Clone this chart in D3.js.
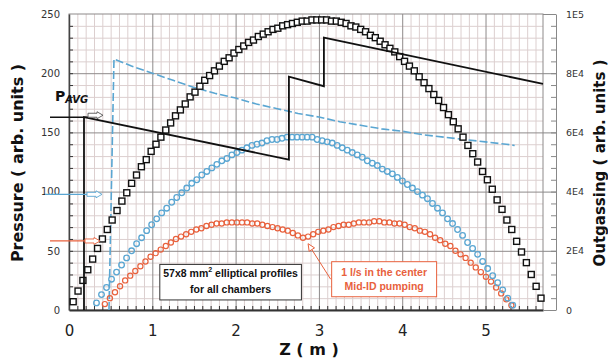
<!DOCTYPE html>
<html>
<head>
<meta charset="utf-8">
<script src="https://cdn.jsdelivr.net/npm/d3@7/dist/d3.min.js"></script>
<style>
  body { margin: 0; background: #fff; }
  svg { display: block; }
</style>
</head>
<body>
<svg id="chart" width="608" height="359"></svg>
<script>
// ---- data ----
const zTicks = [0, 1, 2, 3, 4, 5];
const pressureTicks = [0, 50, 100, 150, 200, 250];
const outgassingTicks = [0, 20000, 40000, 60000, 80000, 100000];
const outgassingLabels = ['0', '2E4', '4E4', '6E4', '8E4', '1E5'];

// black squares: sampled every 0.0585 m starting at z = 0.05
const squareZ0 = 0.05, squareDz = 0.0585;
const squareP = [
  7, 16, 25, 34, 43, 52, 60, 68, 76, 84,
  92, 99, 107, 114, 121, 127, 134, 140, 146, 152,
  158, 164, 169, 174, 180, 184, 189, 194, 198, 202,
  206, 210, 213, 217, 220, 223, 226, 228, 231, 233,
  235, 237, 238, 240, 241, 242, 243, 244, 244, 245,
  245, 245, 245, 244, 244, 243, 242, 240, 239, 237,
  235, 232, 230, 227, 224, 221, 218, 214, 210, 206,
  202, 197, 192, 187, 182, 177, 171, 165, 159, 153,
  146, 139, 132, 125, 117, 110, 102, 93, 85, 76,
  68, 58, 49, 40, 30, 20, 10
];

// blue circles: every 0.0602 m from z = 0.33
const blueZ0 = 0.33, blueDz = 0.0602;
const blueP = [
  6, 13, 19, 26, 32, 38, 44, 50, 56, 61,
  67, 72, 77, 82, 86, 91, 95, 99, 103, 107,
  110, 114, 117, 120, 123, 126, 128, 131, 133, 135,
  137, 139, 140, 141, 143, 144, 144, 145, 146, 146,
  146, 146, 146, 146, 144, 143, 142, 141, 139, 137,
  135, 133, 131, 129, 126, 124, 122, 119, 117, 115,
  112, 109, 106, 103, 100, 97, 94, 90, 86, 82,
  77, 73, 68, 63, 57, 52, 47, 41, 35, 29,
  23, 17, 10, 4
];

// red circles (1 l/s mid-ID pumping): every 0.061 m from z = 0.43
const redZ0 = 0.43, redDz = 0.061;
const redP = [
  5, 10, 15, 20, 25, 29, 33, 37, 41, 45,
  48, 51, 54, 57, 60, 62, 64, 66, 68, 69,
  71, 72, 73, 73, 74, 74, 74, 74, 74, 73,
  73, 72, 71, 70, 69, 68, 67, 65, 63, 61,
  62, 64, 66, 67, 68, 70, 71, 72, 72, 73,
  74, 74, 74, 75, 75, 74, 74, 73, 73, 72,
  70, 69, 67, 66, 64, 61, 59, 56, 54, 50,
  47, 44, 40, 36, 32, 28, 24, 19, 14, 9,
  4
];

// blue dashed line
const dashZ = [0.48, 0.54, 0.75, 1.0, 1.25, 1.5, 1.75, 2.0, 2.25, 2.5, 2.75, 3.0,
  3.25, 3.5, 3.75, 4.0, 4.25, 4.5, 4.75, 5.0, 5.25, 5.35];
const dashP = [0, 212, 206, 200, 194, 188, 183, 179, 174, 170, 166, 163,
  159, 156, 153, 151, 148, 146, 144, 142, 140, 139];

// black solid saw-tooth line
const stepZ = [0.18, 0.18, 2.64, 2.64, 3.06, 3.06, 5.69];
const stepP = [0, 163, 127, 197, 189, 230, 191];

const blue = '#5aa6d2';
const red = '#e8613d';

// average pressure markers on the left
const pAvg = [
  {p: 162.8, color: '#111', lineFrom: 50, tip: 103, lift: -2},
  {p: 97.7, color: blue, lineFrom: 45, tip: 102, lift: 0},
  {p: 58.3, color: red, lineFrom: 50, tip: 100, lift: 0}
];

// ---- chart ----
const plot = {left: 69, right: 543, top: 14, bottom: 310};
const svg = d3.select('#chart');

const x = d3.scaleLinear().domain([0, 5.69]).range([plot.left, plot.right]);
const y = d3.scaleLinear().domain([0, 250]).range([plot.bottom, plot.top]);
const yR = d3.scaleLinear().domain([0, 100000]).range([plot.bottom, plot.top]);

const plotH = plot.bottom - plot.top;
const plotW = plot.right - plot.left;

const minorZ = d3.range(1, 57).filter(i => i % 10 !== 0).map(i => i / 10);
const majorZ = [1, 2, 3, 4, 5];
const minorP = d3.range(10, 250, 10).filter(v => v % 50 !== 0);
const majorP = [50, 100, 150, 200];

function grid(axis, transform, color) {
  const g = svg.append('g').attr('transform', transform).call(axis);
  g.select('.domain').remove();
  g.selectAll('line').attr('stroke', color).attr('stroke-width', 1);
  g.selectAll('text').remove();
  return g;
}

grid(d3.axisBottom(x).tickValues(minorZ).tickSize(-plotH).tickFormat(''),
  `translate(0,${plot.bottom})`, '#dccfcf');
grid(d3.axisLeft(y).tickValues(minorP).tickSize(-plotW).tickFormat(''),
  `translate(${plot.left},0)`, '#dccfcf');
grid(d3.axisBottom(x).tickValues(majorZ).tickSize(-plotH).tickFormat(''),
  `translate(0,${plot.bottom})`, '#8e8a8a');
grid(d3.axisLeft(y).tickValues(majorP).tickSize(-plotW).tickFormat(''),
  `translate(${plot.left},0)`, '#8e8a8a');

// frame
svg.append('rect')
  .attr('x', plot.left).attr('y', plot.top)
  .attr('width', plotW).attr('height', plotH)
  .attr('fill', 'none').attr('stroke', '#8e8a8a');

// small inward ticks
grid(d3.axisBottom(x).tickValues(d3.range(1, 57).map(i => i / 10)).tickSize(-4).tickFormat(''),
  `translate(0,${plot.bottom})`, '#333');
grid(d3.axisLeft(y).tickValues(d3.range(10, 250, 10)).tickSize(-4).tickFormat(''),
  `translate(${plot.left},0)`, '#333');

// bottom axis
const xAxis = svg.append('g')
  .attr('transform', `translate(0,${plot.bottom})`)
  .call(d3.axisBottom(x).tickValues(zTicks).tickSize(0).tickPadding(15).tickFormat(d3.format('d')));
xAxis.select('.domain').attr('stroke', '#333').attr('stroke-width', 2.2);
xAxis.selectAll('text')
  .style('font-family', '"DejaVu Sans", sans-serif')
  .style('font-size', '15px')
  .attr('fill', '#222');

// left axis
const yAxis = svg.append('g')
  .attr('transform', `translate(${plot.left},0)`)
  .call(d3.axisLeft(y).tickValues(pressureTicks).tickSize(0).tickPadding(9));
yAxis.select('.domain').attr('stroke', '#444').attr('stroke-width', 1.5);
yAxis.selectAll('text')
  .style('font-family', '"DejaVu Sans", sans-serif')
  .style('font-size', '10px')
  .attr('fill', '#333');

// right axis: separate spine with ticks pointing back at the plot
const rightX = 556;
const rMinor = svg.append('g')
  .attr('transform', `translate(${rightX},0)`)
  .call(d3.axisLeft(yR).tickValues(d3.range(0, 100001, 4000)).tickSize(5).tickSizeOuter(0).tickFormat(''));
rMinor.select('.domain').attr('stroke', '#888');
rMinor.selectAll('line').attr('stroke', '#888');
const rMajor = svg.append('g')
  .attr('transform', `translate(${rightX},0)`)
  .call(d3.axisLeft(yR).tickValues(outgassingTicks).tickSize(rightX - plot.right).tickSizeOuter(0).tickFormat(''));
rMajor.select('.domain').remove();
rMajor.selectAll('line').attr('stroke', '#888');
const rLabels = svg.append('g')
  .attr('transform', `translate(${rightX},0)`)
  .call(d3.axisRight(yR).tickValues(outgassingTicks).tickSize(0).tickPadding(10)
    .tickFormat((d, i) => outgassingLabels[i]));
rLabels.select('.domain').remove();
rLabels.selectAll('text')
  .style('font-family', '"DejaVu Sans", sans-serif')
  .style('font-size', '9.5px')
  .attr('fill', '#333');

// axis titles
const titleFont = '"DejaVu Sans", sans-serif';
svg.append('text')
  .attr('transform', 'translate(23,163) rotate(-90)')
  .attr('text-anchor', 'middle')
  .style('font-family', titleFont).style('font-weight', 'bold').style('font-size', '16px')
  .attr('fill', '#111')
  .text('Pressure ( arb. units )');
svg.append('text')
  .attr('transform', 'translate(605,163) rotate(-90)')
  .attr('text-anchor', 'middle')
  .style('font-family', titleFont).style('font-weight', 'bold').style('font-size', '15px')
  .attr('fill', '#111')
  .text('Outgassing ( arb. units )');
svg.append('text')
  .attr('x', 309).attr('y', 355)
  .attr('text-anchor', 'middle')
  .style('font-family', titleFont).style('font-weight', 'bold').style('font-size', '16px')
  .attr('fill', '#111')
  .text('Z ( m )');

// ---- series ----
const plotArea = svg.append('g');

const dashLine = d3.line().x((d, i) => x(dashZ[i])).y(d => y(d));
plotArea.append('path')
  .attr('d', dashLine(dashP))
  .attr('fill', 'none')
  .attr('stroke', blue)
  .attr('stroke-width', 1.6)
  .attr('stroke-dasharray', '8,3');

plotArea.selectAll('.red-pt')
  .data(redP)
  .join('circle')
  .attr('class', 'red-pt')
  .attr('cx', (d, i) => x(redZ0 + i * redDz))
  .attr('cy', d => y(d))
  .attr('r', 2.6)
  .attr('fill', 'none')
  .attr('stroke', red)
  .attr('stroke-width', 1.2);

plotArea.selectAll('.blue-pt')
  .data(blueP)
  .join('circle')
  .attr('class', 'blue-pt')
  .attr('cx', (d, i) => x(blueZ0 + i * blueDz))
  .attr('cy', d => y(d))
  .attr('r', 2.8)
  .attr('fill', 'none')
  .attr('stroke', blue)
  .attr('stroke-width', 1.3);

const sq = 6;
plotArea.selectAll('.sq-pt')
  .data(squareP)
  .join('rect')
  .attr('class', 'sq-pt')
  .attr('x', (d, i) => x(squareZ0 + i * squareDz) - sq / 2)
  .attr('y', d => y(d) - sq / 2)
  .attr('width', sq)
  .attr('height', sq)
  .attr('fill', '#fff')
  .attr('stroke', '#111')
  .attr('stroke-width', 1.4);

const stepLine = d3.line().x((d, i) => x(stepZ[i])).y(d => y(d));
plotArea.append('path')
  .attr('d', stepLine(stepP))
  .attr('fill', 'none')
  .attr('stroke', '#111')
  .attr('stroke-width', 1.8);

// ---- annotations ----
const ann = svg.append('g');

pAvg.forEach(a => {
  const cy = y(a.p);
  ann.append('line')
    .attr('x1', a.lineFrom).attr('x2', a.tip - 15)
    .attr('y1', cy).attr('y2', cy)
    .attr('stroke', a.color).attr('stroke-width', 1.3);
  const ay = cy + a.lift;
  const pts = [[a.tip - 15, ay - 2], [a.tip - 6, ay - 2], [a.tip - 6, ay - 3.5], [a.tip, ay],
    [a.tip - 6, ay + 3.5], [a.tip - 6, ay + 2], [a.tip - 15, ay + 2]];
  ann.append('polygon')
    .attr('points', pts.map(p => p.join(',')).join(' '))
    .attr('fill', '#fff')
    .attr('stroke', a.color === '#111' ? '#555' : a.color)
    .attr('stroke-width', 0.9);
});

const pLabel = ann.append('text')
  .attr('x', 55).attr('y', 101)
  .style('font-family', titleFont).style('font-weight', 'bold')
  .attr('fill', '#111');
pLabel.append('tspan').style('font-size', '14px').text('P');
pLabel.append('tspan').style('font-size', '10px').style('font-style', 'italic')
  .attr('dy', 1.5).text('AVG');

// black info box
const boxFont = '"Liberation Sans", Arial, sans-serif';
const b1 = {z0: 1.09, z1: 2.79, p0: 38.5, p1: 8.5};
ann.append('rect')
  .attr('x', x(b1.z0)).attr('y', y(b1.p0))
  .attr('width', x(b1.z1) - x(b1.z0)).attr('height', y(b1.p1) - y(b1.p0))
  .attr('fill', '#fff').attr('stroke', '#333').attr('stroke-width', 1);
const b1mid = (x(b1.z0) + x(b1.z1)) / 2;
const t1 = ann.append('text')
  .attr('x', b1mid).attr('y', y(b1.p0) + 13)
  .attr('text-anchor', 'middle')
  .style('font-family', boxFont).style('font-weight', 'bold').style('font-size', '10.5px')
  .attr('fill', '#111');
t1.append('tspan').text('57x8 mm');
t1.append('tspan').attr('dy', -5).style('font-size', '7px').text('2');
t1.append('tspan').attr('dy', 5).text(' elliptical profiles');
ann.append('text')
  .attr('x', b1mid).attr('y', y(b1.p0) + 29)
  .attr('text-anchor', 'middle')
  .style('font-family', boxFont).style('font-weight', 'bold').style('font-size', '10.5px')
  .attr('fill', '#111')
  .text('for all chambers');

// red info box + callout arrow
const b2 = {z0: 3.153, z1: 4.413, p0: 40.8, p1: 11.2};
ann.append('rect')
  .attr('x', x(b2.z0)).attr('y', y(b2.p0))
  .attr('width', x(b2.z1) - x(b2.z0)).attr('height', y(b2.p1) - y(b2.p0))
  .attr('fill', '#fff').attr('stroke', red).attr('stroke-width', 1);
const b2mid = (x(b2.z0) + x(b2.z1)) / 2;
['1 l/s in the center', 'Mid-ID pumping'].forEach((s, i) => {
  ann.append('text')
    .attr('x', b2mid).attr('y', y(b2.p0) + 14 + i * 14)
    .attr('text-anchor', 'middle')
    .style('font-family', boxFont).style('font-weight', 'bold').style('font-size', '10.5px')
    .attr('fill', red)
    .text(s);
});

const tail = [x(b2.z0) - 1, y(26)];
const tip = [x(2.87), y(56)];
const ang = Math.atan2(tip[1] - tail[1], tip[0] - tail[0]);
const hl = 7, hw = 3.2;
const base = [tip[0] - hl * Math.cos(ang), tip[1] - hl * Math.sin(ang)];
ann.append('line')
  .attr('x1', tail[0]).attr('y1', tail[1])
  .attr('x2', base[0]).attr('y2', base[1])
  .attr('stroke', red).attr('stroke-width', 1);
const head = [tip,
  [base[0] + hw * Math.sin(ang), base[1] - hw * Math.cos(ang)],
  [base[0] - hw * Math.sin(ang), base[1] + hw * Math.cos(ang)]];
ann.append('polygon')
  .attr('points', head.map(p => p.join(',')).join(' '))
  .attr('fill', '#fff').attr('stroke', red).attr('stroke-width', 1);
</script>
</body>
</html>
